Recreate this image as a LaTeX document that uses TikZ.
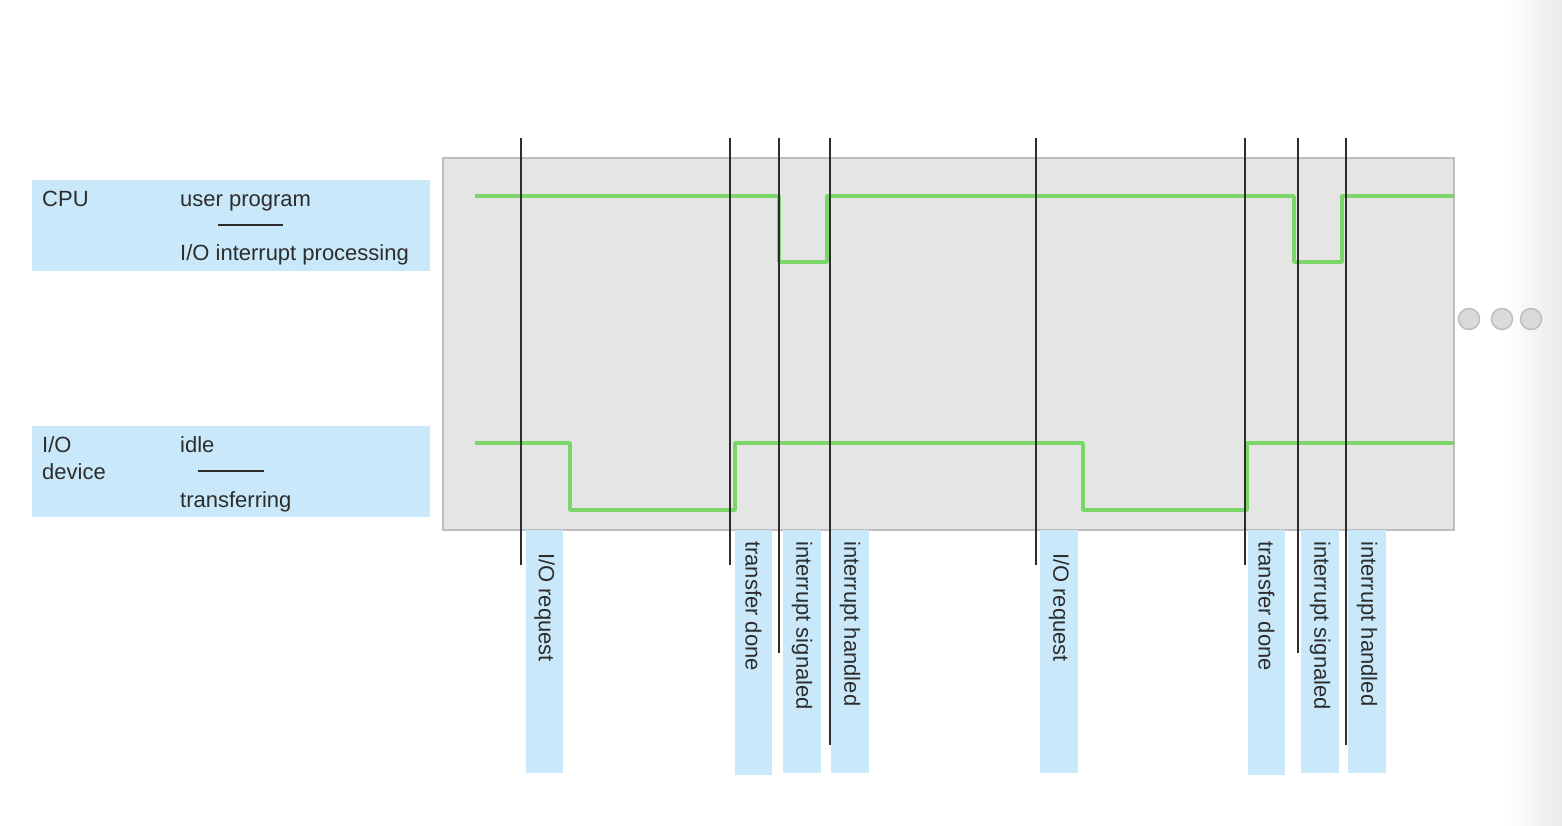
\documentclass[tikz,border=0pt]{standalone}
\usepackage{fontspec}
\setmainfont{Liberation Sans}
\definecolor{lblue}{RGB}{201,232,249}
\definecolor{sigreen}{RGB}{122,214,104}
\definecolor{boxgray}{RGB}{229,229,229}
\definecolor{boxedge}{RGB}{190,190,190}
\definecolor{ink}{RGB}{45,45,45}
\begin{document}
\begin{tikzpicture}[x=1pt,y=-1pt,
  lbl/.style={font=\fontsize{22}{26}\selectfont, text=ink, inner sep=0pt},
  vlbl/.style={lbl, rotate=-90, anchor=west},
  bar/.style={fill=lblue, draw=none},
  tick/.style={draw=ink, line width=1.8pt},
  sig/.style={draw=sigreen, line width=3.6pt, line join=round},
  sep/.style={draw=ink, line width=1.6pt},
  dot/.style={circle, minimum size=21pt, inner sep=0pt, fill=boxgray!95!black, draw=boxedge, line width=1.5pt}]
\useasboundingbox (0,0) rectangle (1562,826);
\fill[white] (0,0) rectangle (1562,826);
\shade[left color=white, right color=black!8] (1505,0) rectangle (1562,826);
% main box
\draw[fill=boxgray, draw=boxedge, line width=1.8pt] (443,158) rectangle (1454,530);
% left legend boxes
\fill[lblue] (32,180) rectangle (430,271);
\fill[lblue] (32,426) rectangle (430,517);
\node[lbl, anchor=base west] (cpu) at (42,207) {CPU};
\node[lbl, anchor=base west] (up) at (180,207) {user program};
\node[lbl, anchor=base west] (iop) at (180,261) {I/O interrupt processing};
\coordinate (s1a) at (218,225); \coordinate (s1b) at (283,225);
\draw[sep] (s1a) -- (s1b);
\node[lbl, anchor=base west] (io) at (42,452) {I/O};
\node[lbl, anchor=base west] (dev) at (42,479) {device};
\node[lbl, anchor=base west] (idle) at (180,452) {idle};
\node[lbl, anchor=base west] (tr) at (180,507) {transferring};
\coordinate (s2a) at (198,471); \coordinate (s2b) at (264,471);
\draw[sep] (s2a) -- (s2b);
% label bars
\fill[bar] (526,530) rectangle (563,773);
\fill[bar] (735,530) rectangle (772,775);
\fill[bar] (783,530) rectangle (821,773);
\fill[bar] (831,530) rectangle (869,773);
\fill[bar] (1040,530) rectangle (1078,773);
\fill[bar] (1248,530) rectangle (1285,775);
\fill[bar] (1301,530) rectangle (1339,773);
\fill[bar] (1348,530) rectangle (1386,773);
\node[vlbl] (r1) at (544.5,553) {I/O request};
\node[vlbl] (d1) at (753.5,541) {transfer done};
\node[vlbl] (g1) at (802,541) {interrupt signaled};
\node[vlbl] (h1) at (850,541) {interrupt handled};
\node[vlbl] (r2) at (1059,553) {I/O request};
\node[vlbl] (d2) at (1266.5,541) {transfer done};
\node[vlbl] (g2) at (1320,541) {interrupt signaled};
\node[vlbl] (h2) at (1367,541) {interrupt handled};
% signals
\draw[sig] (475,196) -- (779,196) -- (779,262) -- (827,262) -- (827,196) -- (1294,196) -- (1294,262) -- (1342,262) -- (1342,196) -- (1454,196);
\draw[sig] (475,443) -- (570,443) -- (570,510) -- (735,510) -- (735,443) -- (1083,443) -- (1083,510) -- (1247,510) -- (1247,443) -- (1454,443);
% event ticks
\foreach \x/\yb in {521/565, 730/565, 779/653, 830/745, 1036/565, 1245/565, 1298/653, 1346/745}
  \draw[tick] (\x,138) -- (\x,\yb);
% continuation dots
\node[dot] (c1) at (1469,319) {};
\node[dot] (c2) at (1502,319) {};
\node[dot] (c3) at (1531,319) {};
\end{tikzpicture}
\end{document}
